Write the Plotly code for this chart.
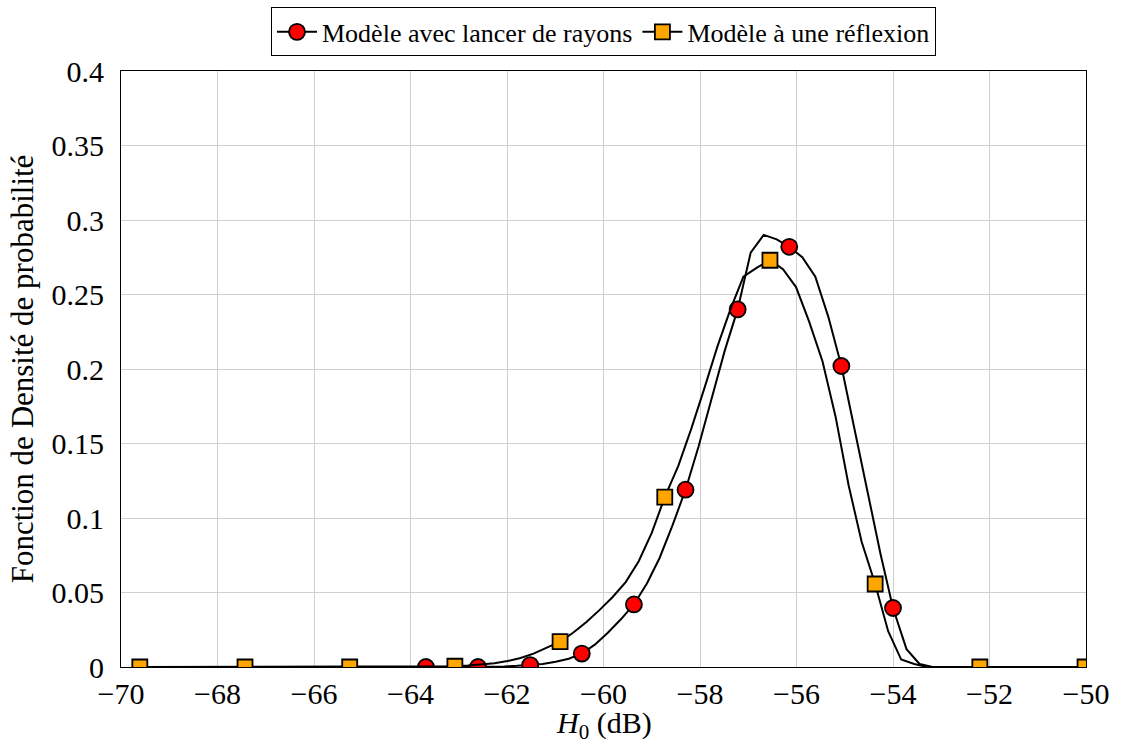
import plotly.graph_objects as go

# Ray-tracing model: sampled density, a marker every 4th sample
ray_x = [-63.68, -63.41, -63.14, -62.87, -62.60, -62.33, -62.06, -61.79,
         -61.52, -61.26, -60.99, -60.72, -60.45, -60.18, -59.91, -59.64,
         -59.37, -59.10, -58.84, -58.57, -58.30, -58.03, -57.76, -57.49,
         -57.22, -56.95, -56.68, -56.41, -56.15, -55.88, -55.61, -55.34,
         -55.07, -54.80, -54.53, -54.26, -54.00, -53.72, -53.45, -53.18]
ray_y = [0.0, 0.0, 0.0, 0.0, 0.0, 0.0002, 0.0004, 0.0008,
         0.0013, 0.002, 0.0035, 0.0055, 0.009, 0.015, 0.023, 0.032,
         0.042, 0.056, 0.073, 0.095, 0.119, 0.148, 0.180, 0.212,
         0.240, 0.278, 0.290, 0.287, 0.282, 0.275, 0.262, 0.235,
         0.202, 0.161, 0.118, 0.076, 0.0396, 0.012, 0.002, 0.0]
ray_mark_step = 4

# One-reflection model: sampled density, a marker every 8th sample
refl_x = [-69.61, -69.34, -69.07, -68.79, -68.52, -68.25, -67.98, -67.71,
          -67.43, -67.16, -66.89, -66.62, -66.35, -66.07, -65.80, -65.53,
          -65.26, -64.99, -64.71, -64.44, -64.17, -63.90, -63.63, -63.35,
          -63.08, -62.81, -62.54, -62.26, -61.99, -61.72, -61.45, -61.17,
          -60.90, -60.63, -60.36, -60.09, -59.81, -59.54, -59.27, -59.00,
          -58.73, -58.45, -58.18, -57.91, -57.64, -57.37, -57.10, -56.82,
          -56.55, -56.28, -56.01, -55.74, -55.46, -55.19, -54.92, -54.65,
          -54.37, -54.10, -53.83, -53.56, -53.29, -53.01, -52.74, -52.47,
          -52.20, -51.93, -51.65, -51.38, -51.11, -50.84, -50.57, -50.29,
          -50.02]
refl_y = [0.0, 0.0, 0.0, 0.0, 0.0, 0.0, 0.0, 0.0,
          0.0, 0.0, 0.0, 0.0, 0.0, 0.0, 0.0, 0.0,
          0.0, 0.0, 0.0, 0.0, 0.0, 0.0, 0.0, 0.0002,
          0.0005, 0.001, 0.0015, 0.0025, 0.004, 0.006, 0.009, 0.013,
          0.017, 0.023, 0.030, 0.038, 0.047, 0.057, 0.071, 0.090,
          0.114, 0.135, 0.160, 0.187, 0.215, 0.240, 0.262, 0.268,
          0.273, 0.267, 0.255, 0.232, 0.205, 0.168, 0.122, 0.084,
          0.0557, 0.024, 0.005, 0.002, 0.0, 0.0, 0.0, 0.0,
          0.0, 0.0, 0.0, 0.0, 0.0, 0.0, 0.0, 0.0,
          0.0]
refl_mark_step = 8

ray_name = "Modèle avec lancer de rayons"
refl_name = "Modèle à une réflexion"

x_ticks = [-70, -68, -66, -64, -62, -60, -58, -56, -54, -52, -50]
y_ticks = [0, 0.05, 0.1, 0.15, 0.2, 0.25, 0.3, 0.35, 0.4]
y_tick_text = ["0", "0.05", "0.1", "0.15", "0.2", "0.25", "0.3", "0.35", "0.4"]

SERIF = "Liberation Serif, Times New Roman, serif"
series = [
    (ray_name, ray_x, ray_y, ray_mark_step, "circle", "#ff0000", 16),
    (refl_name, refl_x, refl_y, refl_mark_step, "square", "#ffa500", 15),
]

fig = go.Figure()
for name, xs, ys, step, symbol, color, msize in series:
    marker = dict(symbol=symbol, color=color, size=msize,
                  line=dict(color="black", width=1.8))
    fig.add_trace(go.Scatter(x=xs, y=ys, mode="lines",
                             line=dict(color="black", width=2),
                             showlegend=False, hoverinfo="skip"))
    fig.add_trace(go.Scatter(x=xs[::step], y=ys[::step], mode="markers",
                             marker=marker, showlegend=False))
    # legend entry: line with the marker in its middle
    fig.add_trace(go.Scatter(x=[None], y=[None], mode="lines+markers",
                             name=name, line=dict(color="black", width=2),
                             marker=marker))

axis_common = dict(showline=True, linecolor="black", linewidth=1, mirror=True,
                   showgrid=True, gridcolor="#cfcfcf", gridwidth=1,
                   zeroline=False, ticks="",
                   tickfont=dict(family=SERIF, size=30, color="black"))

fig.update_xaxes(range=[-70, -50], tickvals=x_ticks, ticklabelstandoff=0,
                 **axis_common)
fig.update_yaxes(range=[0, 0.4], tickvals=y_ticks,
                 ticktext=y_tick_text, ticklabelstandoff=10,
                 title=dict(text="Fonction de Densité de probabilité",
                            font=dict(family=SERIF, size=31, color="black"),
                            standoff=8),
                 **axis_common)

# x-axis title placed just below the tick labels
fig.add_annotation(text="<i>H</i><sub>0</sub> (dB)", xref="paper", yref="paper",
                   x=0.5, y=-0.098, xanchor="center", yanchor="middle",
                   showarrow=False,
                   font=dict(family=SERIF, size=30, color="black"))

fig.update_layout(
    width=1123, height=746,
    margin=dict(l=121, r=37, t=71, b=79, autoexpand=False),
    paper_bgcolor="white", plot_bgcolor="white",
    font=dict(family=SERIF, color="black"),
    legend=dict(orientation="h", x=0.5, xanchor="center",
                y=0.99, yanchor="top", yref="container",
                bordercolor="black", borderwidth=1, bgcolor="white",
                font=dict(family=SERIF, size=26, color="black"),
                itemwidth=40, tracegroupgap=0),
)

fig.write_html("out.html")
